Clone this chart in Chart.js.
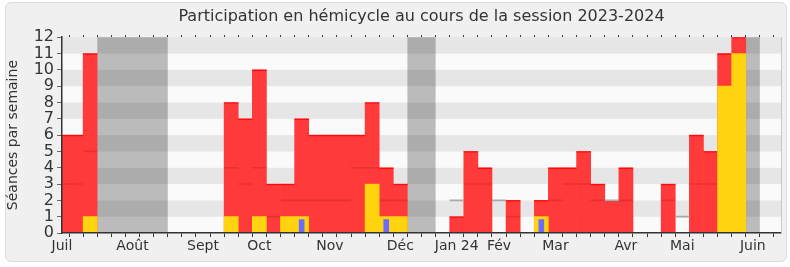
<!DOCTYPE html>
<html>
<head>
<meta charset="utf-8">
<script src="https://cdn.jsdelivr.net/npm/chart.js@4.4.1/dist/chart.umd.min.js"></script>
<style>
  html, body { margin: 0; padding: 0; background: #ffffff; }
  #frame {
    position: absolute; left: 5px; top: 2px; width: 780px; height: 258px;
    background: #f0f0f0; border: 1px solid #dcdcdc; border-radius: 6px;
  }
  #wrap { position: absolute; left: 0; top: 0; width: 790px; height: 267px; }
</style>
</head>
<body>
<div id="frame"></div>
<div id="wrap"><canvas id="chart" width="790" height="267"></canvas></div>
<script>
// Semaines de la session (juillet 2023 -> juin 2024), une entrée par semaine
const monthNames = ['Juil', 'Août', 'Sept', 'Oct', 'Nov', 'Déc', 'Jan 24', 'Fév', 'Mar', 'Avr', 'Mai', 'Juin'];
const monthWeeks = [0, 5, 10, 14, 19, 24, 28, 31, 35, 40, 44, 49];
const weekCount = 52;

// Séances par semaine (rouge = présences, jaune = interventions, bleu = questions)
const presences = [6, 6, 11, null, null, null, null, null, null, null, null, null,
  8, 7, 10, 3, 3, 7, 6, 6, 6, 6, 8, 4, 3, null, null, null,
  1, 5, 4, null, 2, null, 2, 4, 4, 5, 3, 2, 4, null, null, 3, null,
  6, 5, 11, 12, null, null, null];
const interventions = [null, null, 1, null, null, null, null, null, null, null, null, null,
  1, null, 1, null, 1, 1, null, null, null, null, 3, 1, 1, null, null, null,
  null, null, null, null, null, null, 1, null, null, null, null, null, null, null, null, null, null,
  null, null, 9, 11, null, null, null];
const questions = [null, null, null, null, null, null, null, null, null, null, null, null,
  null, null, null, null, null, 0.85, null, null, null, null, null, 0.85, null, null, null, null,
  null, null, null, null, null, null, 0.85, null, null, null, null, null, null, null, null, null, null,
  null, null, null, null, null, null, null];
// Médiane des députés
const mediane = [3, 3, 5, null, null, null, null, null, null, null, null, null,
  4, 3, 4, 1, 2, 2, 2, 2, 2, 4, 4, 2, 2, null, null, null,
  2, 3, 3, 2, 1, null, 1, 2, 3, 3, 2, 2, 2, null, null, 2, 1,
  3, 3, null, null, null, null, null];
// Semaines de vacances parlementaires
const vacances = [3, 4, 5, 6, 7, 25, 26, 49];
const yMax = 12;

const labels = [];
for (let i = 0; i < weekCount; i++) {
  const k = monthWeeks.indexOf(i);
  labels.push(k >= 0 ? monthNames[k] : '');
}

// fond rayé + bandes grises des vacances
const background = {
  id: 'background',
  beforeDraw(chart) {
    const { ctx, chartArea: a, scales: { x, y } } = chart;
    ctx.save();
    for (let v = 0; v < yMax; v++) {
      const top = y.getPixelForValue(v + 1);
      const bot = y.getPixelForValue(v);
      ctx.fillStyle = v % 2 ? '#e6e6e6' : '#fafafa';
      ctx.fillRect(a.left, top, a.right - a.left, bot - top);
    }
    const half = (x.getPixelForValue(1) - x.getPixelForValue(0)) / 2;
    ctx.fillStyle = 'rgba(0,0,0,0.25)';
    let i = 0;
    while (i < vacances.length) {
      let j = i;
      while (j + 1 < vacances.length && vacances[j + 1] === vacances[j] + 1) j++;
      const x0 = Math.max(a.left, x.getPixelForValue(vacances[i]) - half);
      const x1 = Math.min(a.right, x.getPixelForValue(vacances[j]) + half);
      ctx.fillRect(x0, y.getPixelForValue(yMax), x1 - x0, y.getPixelForValue(0) - y.getPixelForValue(yMax));
      i = j + 1;
    }
    ctx.restore();
  }
};

const common = { grouped: false, barPercentage: 1, categoryPercentage: 1, borderWidth: 0, xAxisID: 'x', yAxisID: 'y' };

new Chart(document.getElementById('chart'), {
  type: 'bar',
  data: {
    labels: labels,
    datasets: [
      { ...common, label: 'Questions', data: questions, backgroundColor: '#6b6bff', barPercentage: 0.4, order: 0 },
      { ...common, label: 'Interventions', data: interventions, backgroundColor: '#ffd30f', order: 1 },
      { ...common, label: 'Médiane', data: mediane.map(m => m === null ? null : [m - 0.05, m + 0.05]),
        backgroundColor: c => (presences[c.dataIndex] || 0) > mediane[c.dataIndex] ? 'rgba(140,0,0,0.18)' : '#a8a8a8',
        inflateAmount: 0, order: 2 },
      { ...common, label: 'Haut', data: presences.map(p => p === null ? null : [p - 0.07, p]),
        backgroundColor: '#ff0a0a', inflateAmount: 0, order: 3 },
      { ...common, label: 'Présences', data: presences, backgroundColor: '#ff3a3a', order: 4 }
    ]
  },
  options: {
    responsive: false,
    animation: false,
    layout: { padding: { left: 0, right: 9, top: 0, bottom: 0 } },
    plugins: {
      legend: { display: false },
      tooltip: { enabled: false },
      title: {
        display: true, fullSize: false,
        text: 'Participation en hémicycle au cours de la session 2023-2024',
        color: '#333', font: { family: 'DejaVu Sans', size: 16, weight: 'normal' },
        padding: { top: 7, bottom: 6 }
      }
    },
    scales: {
      x: {
        type: 'category', position: 'bottom', offset: false,
        grid: { display: true, drawOnChartArea: false, tickLength: 4, color: '#333' },
        border: { display: true, color: '#333', width: 1.5, z: 1 },
        ticks: { autoSkip: false, maxRotation: 0, padding: 1, color: '#333',
          font: { family: 'DejaVu Sans', size: 14 } },
        afterFit: s => { s.height = 34; }
      },
      x2: {
        type: 'category', position: 'top', offset: false,
        grid: { display: true, drawOnChartArea: false, tickLength: 2, color: '#222' },
        border: { display: false },
        ticks: { display: false },
        afterFit: s => { s.height = 5; }
      },
      y: {
        min: 0, max: yMax,
        grid: { display: true, drawOnChartArea: false, tickLength: 5, color: '#666' },
        border: { display: true, color: '#333', width: 1.5, z: 1 },
        ticks: { stepSize: 1, autoSkip: false, padding: 3, color: '#333',
          font: { family: 'DejaVu Sans', size: 16 } },
        title: { display: true, text: 'Séances par semaine', color: '#333',
          font: { family: 'DejaVu Sans', size: 14 }, padding: { top: 5, bottom: 0 } },
        afterFit: s => { s.width = 62; }
      },
      y2: {
        position: 'right', min: 0, max: yMax,
        grid: { display: false },
        border: { display: true, color: '#c8c8c8', width: 1, z: 1 },
        ticks: { display: false },
        afterFit: s => { s.width = 0; }
      }
    }
  },
  plugins: [background]
});
</script>
</body>
</html>
